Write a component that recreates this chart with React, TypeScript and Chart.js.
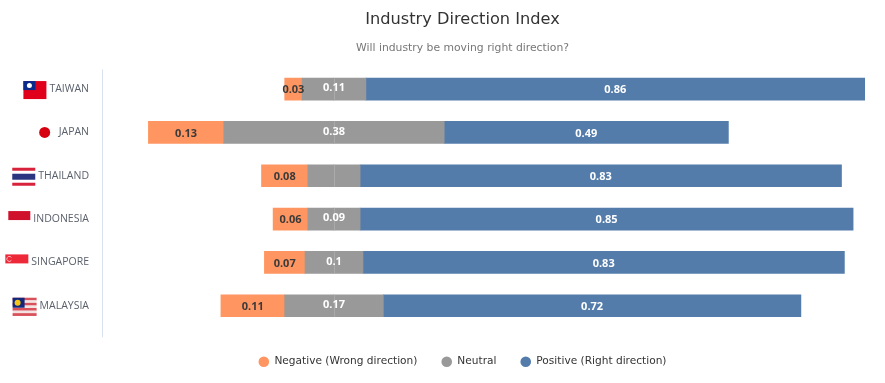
import React, { useEffect, useRef } from "react";
import { Chart, registerables } from "chart.js";

Chart.register(...registerables);

const countries = ["TAIWAN", "JAPAN", "THAILAND", "INDONESIA", "SINGAPORE", "MALAYSIA"];
const negative = [0.03, 0.13, 0.08, 0.06, 0.07, 0.11];
const neutral = [0.11, 0.38, 0.09, 0.09, 0.1, 0.17];
const positive = [0.86, 0.49, 0.83, 0.85, 0.83, 0.72];
const hiddenNeutralLabels = ["THAILAND"];

const ORANGE = "#FF9661";
const GREY = "#999999";
const BLUE = "#537CAB";
const FONT = "'DejaVu Sans', sans-serif";
const LABEL_FONT = "'Open Sans', sans-serif";
const TICK_FONT_SIZE = 10.5;

type Ctx = CanvasRenderingContext2D;
const flagPainters: Record<string, (c: Ctx, x: number, y: number) => void> = {
  TAIWAN(c, x, y) {
    c.fillStyle = "#E0001B";
    c.fillRect(x - 23, y - 9, 23, 18);
    c.fillStyle = "#0A2A8C";
    c.fillRect(x - 23, y - 9, 12, 9);
    c.fillStyle = "#fff";
    c.beginPath();
    c.arc(x - 17, y - 4.5, 2.5, 0, Math.PI * 2);
    c.fill();
  },
  JAPAN(c, x, y) {
    c.fillStyle = "#D7000F";
    c.beginPath();
    c.arc(x - 11, y, 5.5, 0, Math.PI * 2);
    c.fill();
  },
  THAILAND(c, x, y) {
    c.fillStyle = "#D8213B";
    c.fillRect(x - 23, y - 9, 23, 3);
    c.fillRect(x - 23, y + 6, 23, 3);
    c.fillStyle = "#2B3580";
    c.fillRect(x - 23, y - 3, 23, 6);
  },
  INDONESIA(c, x, y) {
    c.fillStyle = "#D0112B";
    c.fillRect(x - 22, y - 9, 22, 9);
  },
  SINGAPORE(c, x, y) {
    c.fillStyle = "#ED2939";
    c.fillRect(x - 23, y - 9, 23, 9);
    c.strokeStyle = "#F9B7BD";
    c.lineWidth = 1;
    c.beginPath();
    c.arc(x - 19, y - 4.5, 2.5, 0.6, Math.PI * 2 - 0.6);
    c.stroke();
  },
  MALAYSIA(c, x, y) {
    for (let i = 0; i < 7; i++) {
      c.fillStyle = i % 2 === 0 ? "#D8505A" : "#F3E3E3";
      c.fillRect(x - 24, y - 9 + (i * 18) / 7, 24, 18 / 7 + 0.2);
    }
    c.fillStyle = "#10277A";
    c.fillRect(x - 24, y - 9, 12, 10);
    c.fillStyle = "#F5C518";
    c.beginPath();
    c.arc(x - 19, y - 4, 3, 0, Math.PI * 2);
    c.fill();
  },
};

const decorations = {
  id: "decorations",
  afterLayout(chart: any) {
    // let the tick labels use the space left of the scale box without being clipped
    chart.scales.y.left = 0;
  },
  afterDatasetsDraw(chart: any) {
    const { ctx, chartArea, scales } = chart;
    ctx.save();
    ctx.strokeStyle = "#D9E0F0";
    ctx.lineWidth = 1;
    ctx.beginPath();
    ctx.moveTo(chartArea.left + 0.5, chartArea.top + 2);
    ctx.lineTo(chartArea.left + 0.5, chartArea.bottom + 10);
    ctx.stroke();

    ctx.font = `${TICK_FONT_SIZE}px ${LABEL_FONT}`;
    countries.forEach((name, i) => {
      const y = scales.y.getPixelForTick(i);
      const w = ctx.measureText(name).width;
      flagPainters[name](ctx, chartArea.left - 13 - w - 3, y + (name === "JAPAN" ? 0 : 1));
    });

    const metas = chart.getSortedVisibleDatasetMetas();
    const byLabel = (label: string) => metas.find((m: any) => m.label === label);
    const neg = byLabel("Negative (Wrong direction)");
    const neu = byLabel("Neutral");
    const pos = byLabel("Positive (Right direction)");

    // faint seam where the two neutral halves meet
    ctx.strokeStyle = "rgba(255,255,255,0.18)";
    countries.forEach((_, i) => {
      const el = neu.data[i];
      const x = Math.round(el.base) + 0.5;
      ctx.beginPath();
      ctx.moveTo(x, el.y - el.height / 2);
      ctx.lineTo(x, el.y + el.height / 2);
      ctx.stroke();
    });

    ctx.textAlign = "center";
    ctx.textBaseline = "middle";
    ctx.font = `bold 11px ${LABEL_FONT}`;
    countries.forEach((name, i) => {
      const y = scales.y.getPixelForTick(i);
      const negEl = neg.data[i];
      ctx.fillStyle = "#3A3A3A";
      ctx.fillText(String(negative[i]), (negEl.x + negEl.base) / 2, y + 1);
      ctx.fillStyle = "#FFFFFF";
      if (!hiddenNeutralLabels.includes(name)) {
        ctx.fillText(String(neutral[i]), neu.data[i].base, y - 1);
      }
      const posEl = pos.data[i];
      ctx.fillText(String(positive[i]), (posEl.x + posEl.base) / 2, y + 1);
    });
    ctx.restore();
  },
};

export default function App() {
  const ref = useRef<HTMLCanvasElement>(null);
  useEffect(() => {
    const prevMargin = document.body.style.margin;
    document.body.style.margin = "0";
    const legendOrder = ["Negative (Wrong direction)", "Neutral", "Positive (Right direction)"];
    const common = { borderWidth: 0, barThickness: 22, stack: "s" };
    const chart = new Chart(ref.current!, {
      type: "bar",
      data: {
        labels: countries,
        datasets: [
          { ...common, label: "Neutral", data: neutral.map((v) => -v / 2), backgroundColor: GREY },
          { ...common, label: "Negative (Wrong direction)", data: negative.map((v) => -v), backgroundColor: ORANGE },
          { ...common, label: "Neutral right", data: neutral.map((v) => v / 2), backgroundColor: GREY },
          { ...common, label: "Positive (Right direction)", data: positive, backgroundColor: BLUE },
        ],
      },
      options: {
        indexAxis: "y",
        animation: false,
        responsive: false,
        layout: { padding: { left: 40, right: 0, top: 10, bottom: 6 } },
        plugins: {
          title: {
            display: true,
            text: "Industry Direction Index",
            color: "#333333",
            font: { family: FONT, size: 16.2, weight: "normal" },
            padding: { top: 0, bottom: 6 },
          },
          subtitle: {
            display: true,
            text: "Will industry be moving right direction?",
            color: "#777777",
            font: { family: FONT, size: 10.8, weight: "normal" },
            padding: { top: 6, bottom: 13 },
          },
          legend: {
            position: "bottom",
            labels: {
              usePointStyle: true,
              pointStyle: "circle",
              pointStyleWidth: 10.6,
              boxHeight: 7.5,
              padding: 24,
              color: "#333333",
              font: { family: FONT, size: 10.6, weight: "normal" },
              filter: (item: any) => item.text !== "Neutral right",
              sort: (a: any, b: any) => legendOrder.indexOf(a.text) - legendOrder.indexOf(b.text),
            },
          },
          tooltip: { enabled: false },
        },
        scales: {
          x: {
            stacked: true,
            min: -0.4,
            max: 0.95,
            border: { display: false },
            grid: { display: false, drawTicks: false },
            ticks: { display: false },
            afterFit: (s: any) => {
              s.height = 5;
            },
          },
          y: {
            stacked: true,
            afterFit: (s: any) => {
              s.width = 62;
            },
            border: { display: false },
            grid: { display: false, drawTicks: false },
            ticks: { color: "#5A606B", padding: 13, font: { family: LABEL_FONT, size: TICK_FONT_SIZE } },
          },
        },
      },
      plugins: [decorations],
    } as any);
    return () => {
      chart.destroy();
      document.body.style.margin = prevMargin;
    };
  }, []);
  return <canvas ref={ref} width={885} height={383} style={{ display: "block" }} />;
}
